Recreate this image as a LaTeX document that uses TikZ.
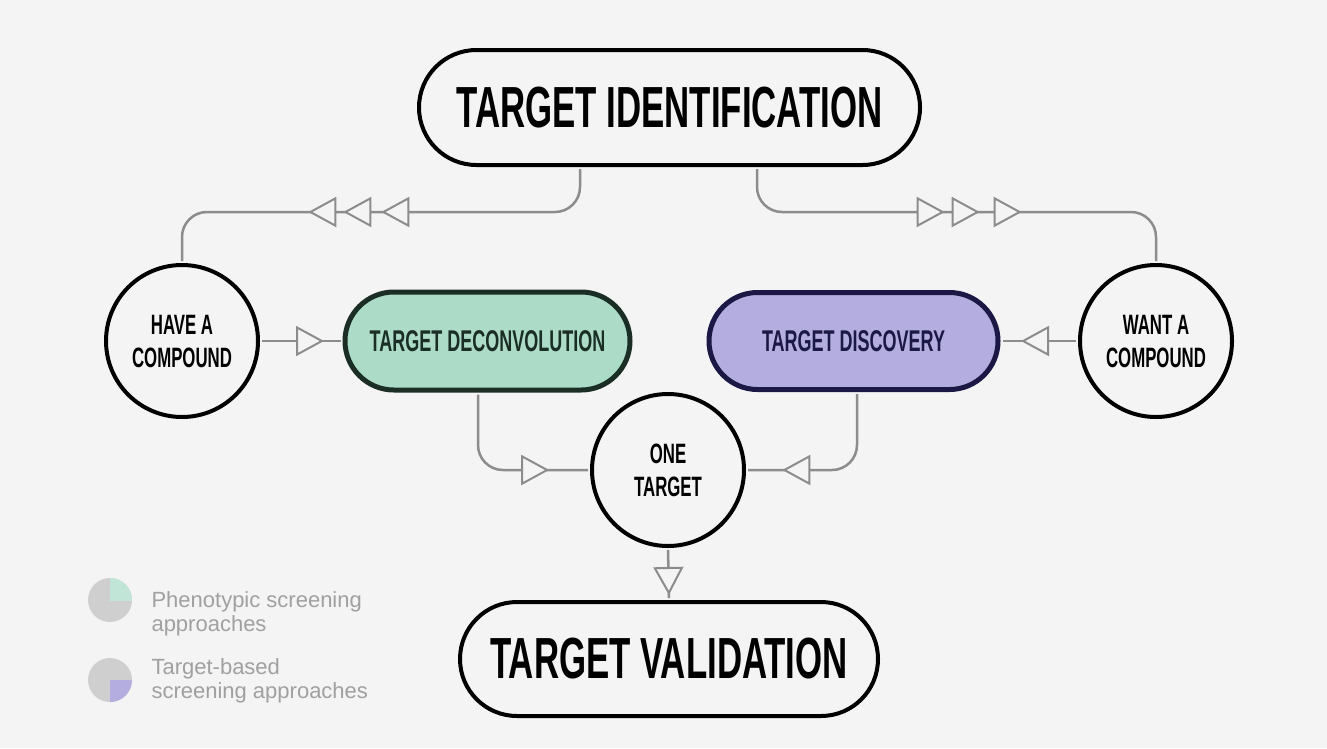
\documentclass[tikz,border=0pt]{standalone}
\usepackage{fontspec}
\usetikzlibrary{arrows.meta,decorations.markings}
\newfontfamily\condfont[FakeStretch=0.6]{Liberation Sans}
\newfontfamily\legendfont{Liberation Sans}
\definecolor{bgcol}{HTML}{F4F4F4}
\definecolor{linegray}{HTML}{8C8C8C}
\definecolor{mint}{HTML}{ACDCC8}
\definecolor{mintedge}{HTML}{1B2E26}
\definecolor{lavender}{HTML}{B3AEDF}
\definecolor{lavedge}{HTML}{1C1845}
\definecolor{legendgray}{HTML}{A0A0A0}
\definecolor{legendcircle}{HTML}{CFCFCF}

\tikzset{
  hollowtri/.tip={Triangle[length=28pt,width=30pt,fill=bgcol,line width=2pt]},
  pill/.style={draw=black, line width=4pt, rounded corners=#1, inner sep=0pt,
    text=black},
  bigtext/.style={font=\condfont\bfseries\fontsize{58}{60}\selectfont},
  midtext/.style={font=\condfont\bfseries\fontsize{30}{34}\selectfont},
  roundnode/.style={circle, draw=black, line width=4pt, minimum size=152pt,
    inner sep=0pt, align=center,
    font=\condfont\bfseries\fontsize{28}{33}\selectfont},
  conn/.style={draw=linegray, line width=2.5pt, rounded corners=25pt,
    shorten <=2pt, shorten >=2pt, postaction={decorate}},
  legendtext/.style={anchor=north west, align=left, text=legendgray,
    font=\legendfont\fontsize{22}{24}\selectfont},
}

\begin{document}
\begin{tikzpicture}[x=1pt,y=-1pt]
  % canvas
  \fill[bgcol] (0,0) rectangle (1327,748);
  \useasboundingbox (0,0) rectangle (1327,748);

  % stages
  \node[pill=57.5pt, bigtext, minimum width=501pt, minimum height=115pt]
    (tid) at (669.5,107.5) {TARGET IDENTIFICATION};
  \node[pill=57pt, bigtext, minimum width=418pt, minimum height=114pt]
    (tval) at (669,659) {TARGET VALIDATION};
  \node[pill=49pt, midtext, minimum width=285pt, minimum height=98pt,
    fill=mint, draw=mintedge, line width=5pt, text=mintedge]
    (tdec) at (487.5,341) {TARGET DECONVOLUTION};
  \node[pill=48.5pt, midtext, minimum width=289pt, minimum height=97pt,
    fill=lavender, draw=lavedge, line width=5pt, text=lavedge]
    (tdis) at (853.5,341) {TARGET DISCOVERY};

  % starting points and outcome
  \node[roundnode] (have) at (182,341) {HAVE A\\COMPOUND};
  \node[roundnode] (want) at (1156,341) {WANT A\\COMPOUND};
  \node[roundnode] (one) at (668,470) {ONE\\TARGET};

  % bend points of the routed connectors
  \coordinate (lt) at (580,212);
  \coordinate (rt) at (757,212);
  \coordinate (dl) at (478,470);
  \coordinate (dr) at (857,470);

  % connectors
  \draw[conn, decoration={markings,
      mark=at position 233pt with {\arrow{hollowtri}},
      mark=at position 271pt with {\arrow{hollowtri}},
      mark=at position 306pt with {\arrow{hollowtri}}}]
    (tid.south -| lt) -- (lt) -| (have.north);
  \draw[conn, decoration={markings,
      mark=at position 222pt with {\arrow{hollowtri}},
      mark=at position 257pt with {\arrow{hollowtri}},
      mark=at position 299pt with {\arrow{hollowtri}}}]
    (tid.south -| rt) -- (rt) -| (want.north);
  \draw[conn, decoration={markings,
      mark=at position 64pt with {\arrow{hollowtri}}}]
    (have.east) -- (tdec.west);
  \draw[conn, decoration={markings,
      mark=at position 57pt with {\arrow{hollowtri}}}]
    (want.west) -- (tdis.east);
  \draw[conn, decoration={markings,
      mark=at position 138pt with {\arrow{hollowtri}}}]
    (tdec.south -| dl) |- (one.west);
  \draw[conn, decoration={markings,
      mark=at position 142pt with {\arrow{hollowtri}}}]
    (tdis.south -| dr) |- (one.east);
  \draw[conn, decoration={markings,
      mark=at position 47pt with {\arrow{hollowtri}}}]
    (one.south) -- (tval.north);

  % legend
  \fill[legendcircle] (110,600) circle (22);
  \begin{scope}
    \clip (110,600) circle (22);
    \fill[mint!75!white] (110,578) rectangle (134,601);
  \end{scope}
  \fill[legendcircle] (110,680) circle (22);
  \begin{scope}
    \clip (110,680) circle (22);
    \fill[lavender] (110,680) rectangle (134,704);
  \end{scope}
  \node[legendtext] (lg1) at (148,588) {Phenotypic screening\\approaches};
  \node[legendtext] (lg2) at (148,655) {Target-based\\screening approaches};
\end{tikzpicture}
\end{document}
